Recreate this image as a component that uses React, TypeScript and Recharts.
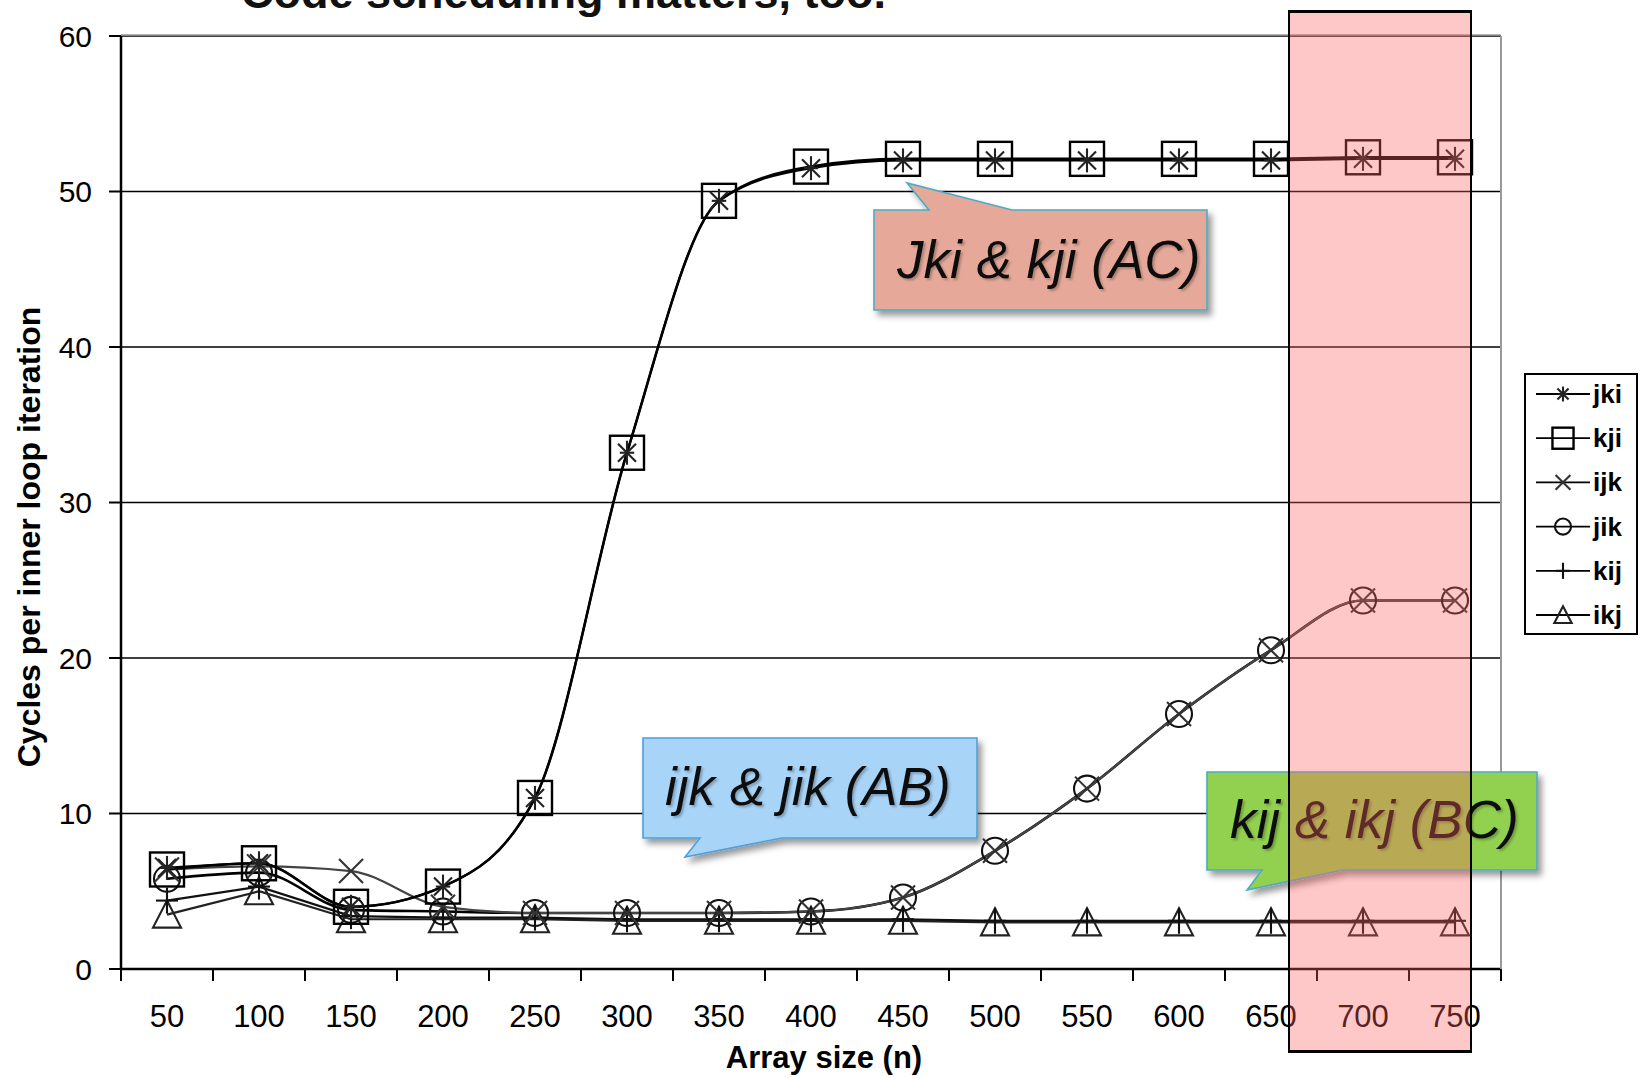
import React from "react";
import { ComposedChart, Line, XAxis, YAxis, CartesianGrid } from "recharts";

// array sizes (n)
const sizes = ["50", "100", "150", "200", "250", "300", "350", "400", "450", "500", "550", "600", "650", "700", "750"];

// cycles per inner loop iteration
const jki = [6.5, 6.8, 4.0, 5.3, 11.0, 33.2, 49.4, 51.5, 52.0, 52.0, 52.0, 52.0, 52.0, 52.1, 52.1];
const kji = [6.4, 6.8, 4.0, 5.3, 11.0, 33.2, 49.4, 51.6, 52.1, 52.1, 52.1, 52.1, 52.1, 52.2, 52.2];
const ijk = [6.4, 6.6, 6.3, 4.0, 3.6, 3.6, 3.6, 3.7, 4.6, 7.6, 11.6, 16.4, 20.5, 23.7, 23.7];
const jik = [5.8, 6.2, 3.8, 3.7, 3.6, 3.6, 3.6, 3.7, 4.6, 7.6, 11.6, 16.4, 20.5, 23.7, 23.7];
const kij = [4.4, 5.3, 3.4, 3.3, 3.3, 3.2, 3.2, 3.2, 3.2, 3.1, 3.1, 3.1, 3.1, 3.1, 3.1];
const ikj = [3.5, 5.0, 3.2, 3.2, 3.2, 3.1, 3.1, 3.1, 3.1, 3.0, 3.0, 3.0, 3.0, 3.0, 3.0];

const yTicks = [0, 10, 20, 30, 40, 50, 60];
const seriesNames = ["jki", "kji", "ijk", "jik", "kij", "ikj"];

const data = sizes.map((n, i) => ({
  n,
  jki: jki[i],
  kji: kji[i],
  ijk: ijk[i],
  jik: jik[i],
  kij: kij[i],
  ikj: ikj[i],
}));

const W = 1646;
const H = 1078;
const Y_AXIS_W = 121;
const X_AXIS_H = 60;
const margin = { top: 36, right: 145, bottom: 49, left: 0 };
const PLOT_LEFT = margin.left + Y_AXIS_W;
const PLOT_RIGHT = W - margin.right;
const PLOT_BOTTOM = H - margin.bottom - X_AXIS_H;
const BAND = (PLOT_RIGHT - PLOT_LEFT) / sizes.length;
const FONT = "'Liberation Sans', Arial, Helvetica, sans-serif";

// marker shapes, scale s = 1 in the plot, smaller in the legend
function Marker({ kind, cx, cy, s = 1 }: { kind: string; cx: number; cy: number; s?: number }) {
  const sw = 2.1;
  if (kind === "jki") {
    const a = 9 * s, v = 12 * s;
    return (
      <g stroke="#222" strokeWidth={sw}>
        <line x1={cx - a} y1={cy - a} x2={cx + a} y2={cy + a} />
        <line x1={cx - a} y1={cy + a} x2={cx + a} y2={cy - a} />
        <line x1={cx} y1={cy - v} x2={cx} y2={cy + v} />
        <line x1={cx - v * 0.6} y1={cy} x2={cx + v * 0.6} y2={cy} />
      </g>
    );
  }
  if (kind === "kji") {
    const h = 17 * s;
    return <rect x={cx - h} y={cy - h} width={h * 2} height={h * 2} fill="none" stroke="#000" strokeWidth={2.4} />;
  }
  if (kind === "ijk") {
    const a = 12 * s;
    return (
      <g stroke="#333" strokeWidth={sw}>
        <line x1={cx - a} y1={cy - a} x2={cx + a} y2={cy + a} />
        <line x1={cx - a} y1={cy + a} x2={cx + a} y2={cy - a} />
      </g>
    );
  }
  if (kind === "jik") {
    return <circle cx={cx} cy={cy} r={13 * s} fill="none" stroke="#111" strokeWidth={sw} />;
  }
  if (kind === "kij") {
    const v = 13 * s, hz = 11 * s;
    return (
      <g stroke="#111" strokeWidth={sw}>
        <line x1={cx} y1={cy - v} x2={cx} y2={cy + v} />
        <line x1={cx - hz} y1={cy} x2={cx + hz} y2={cy} />
      </g>
    );
  }
  const t = 14 * s;
  return (
    <path
      d={`M${cx},${cy - t} L${cx + t},${cy + t * 0.93} L${cx - t},${cy + t * 0.93} Z`}
      fill="none"
      stroke="#222"
      strokeWidth={sw}
    />
  );
}

const makeDot = (kind: string) => (p: any) => (
  <g key={`${kind}-${p.index}`}>
    {p.cx != null && p.cy != null ? <Marker kind={kind} cx={p.cx} cy={p.cy} /> : null}
  </g>
);

// labels sit in the middle of each category, tick marks on the category boundaries
const XTick = (props: any) => {
  const { x, payload, index } = props;
  const left = x - BAND / 2;
  return (
    <g>
      <line x1={left} y1={PLOT_BOTTOM} x2={left} y2={PLOT_BOTTOM + 12} stroke="#000" strokeWidth={2} />
      {index === sizes.length - 1 ? (
        <line x1={x + BAND / 2} y1={PLOT_BOTTOM} x2={x + BAND / 2} y2={PLOT_BOTTOM + 12} stroke="#000" strokeWidth={2} />
      ) : null}
      <text x={x} y={PLOT_BOTTOM + 58} textAnchor="middle" fontSize={31} fill="#000" fontFamily={FONT}>
        {payload.value}
      </text>
    </g>
  );
};

function Callout({ box, ptr, fill, stroke, text, tx, ty }: any) {
  const [x1, y1, x2, y2] = box;
  const [a, tip, b] = ptr;
  const top = a[1] === y1;
  const d = top
    ? `M${x1},${y1} L${a[0]},${y1} L${tip[0]},${tip[1]} L${b[0]},${y1} L${x2},${y1} L${x2},${y2} L${x1},${y2} Z`
    : `M${x1},${y1} L${x2},${y1} L${x2},${y2} L${b[0]},${y2} L${tip[0]},${tip[1]} L${a[0]},${y2} L${x1},${y2} Z`;
  return (
    <g>
      <path d={d} fill={fill} stroke={stroke} strokeWidth={1.6} filter="url(#shadow)" />
      <text x={tx} y={ty} fontSize={53} fontStyle="italic" fill="#111" fontFamily={FONT} filter="url(#tshadow)">
        {text}
      </text>
    </g>
  );
}

export default function App() {
  return (
    <div style={{ position: "absolute", left: 0, top: 0, width: W, height: H, background: "#fff", overflow: "hidden" }}>
      <ComposedChart width={W} height={H} data={data} margin={margin}>
        <CartesianGrid vertical={false} stroke="#000" strokeWidth={1.5} />
        <XAxis
          dataKey="n"
          type="category"
          scale="point"
          padding={{ left: BAND / 2, right: BAND / 2 }}
          interval={0}
          height={X_AXIS_H}
          axisLine={{ stroke: "#000", strokeWidth: 2.5 }}
          tickLine={false}
          tick={<XTick />}
        />
        <YAxis
          width={Y_AXIS_W}
          domain={[0, 60]}
          ticks={yTicks}
          interval={0}
          axisLine={{ stroke: "#000", strokeWidth: 2.5 }}
          tickLine={{ stroke: "#000", strokeWidth: 2 }}
          tickSize={12}
          tickMargin={17}
          tick={{ fontSize: 30, fill: "#000", fontFamily: FONT }}
        />
        <Line dataKey="ikj" type="linear" stroke="#222" strokeWidth={2.2} dot={makeDot("ikj")} isAnimationActive={false} />
        <Line dataKey="kij" type="linear" stroke="#111" strokeWidth={2.2} dot={makeDot("kij")} isAnimationActive={false} />
        <Line dataKey="jik" type="monotone" stroke="#000" strokeWidth={2.6} dot={makeDot("jik")} isAnimationActive={false} />
        <Line dataKey="ijk" type="monotone" stroke="#444" strokeWidth={2.2} dot={makeDot("ijk")} isAnimationActive={false} />
        <Line dataKey="kji" type="monotone" stroke="#000" strokeWidth={2.6} dot={makeDot("kji")} isAnimationActive={false} />
        <Line dataKey="jki" type="monotone" stroke="#000" strokeWidth={2.2} dot={makeDot("jki")} isAnimationActive={false} />
      </ComposedChart>

      <svg width={W} height={H} style={{ position: "absolute", left: 0, top: 0, pointerEvents: "none" }}>
        <defs>
          <filter id="shadow" x="-10%" y="-10%" width="130%" height="140%">
            <feDropShadow dx="4" dy="5" stdDeviation="3" floodColor="#000" floodOpacity="0.4" />
          </filter>
          <filter id="tshadow" x="-5%" y="-10%" width="115%" height="130%">
            <feDropShadow dx="2" dy="2" stdDeviation="1.2" floodColor="#000" floodOpacity="0.25" />
          </filter>
        </defs>
        {/* title, mostly cut off at the top as in the source slide */}
        <text x={241} y={8} fontSize={45} fontWeight="bold" fill="#111" fontFamily={FONT}>
          Code scheduling matters, too.
        </text>
        {/* light right border of plot */}
        <line x1={PLOT_RIGHT} y1={margin.top} x2={PLOT_RIGHT} y2={PLOT_BOTTOM} stroke="#999" strokeWidth={2} />
        <line x1={PLOT_LEFT} y1={margin.top - 1} x2={PLOT_RIGHT} y2={margin.top - 1} stroke="#999" strokeWidth={1.5} />
        <text
          transform={`translate(40, 537) rotate(-90)`}
          textAnchor="middle"
          fontSize={32}
          fontWeight="bold"
          fill="#000"
          fontFamily={FONT}
        >
          Cycles per inner loop iteration
        </text>
        <text x={824} y={1068} textAnchor="middle" fontSize={31} fontWeight="bold" fill="#000" fontFamily={FONT}>
          Array size (n)
        </text>

        <Callout
          box={[874, 210, 1207, 310]}
          ptr={[[929, 210], [907, 183], [1012, 210]]}
          fill="#E6A999"
          stroke="#4BACC6"
          text="Jki & kji (AC)"
          tx={897}
          ty={278}
        />
        <Callout
          box={[643, 738, 977, 838]}
          ptr={[[700, 838], [685, 857], [782, 838]]}
          fill="#A8D4F8"
          stroke="#4F9FDB"
          text="ijk & jik (AB)"
          tx={665}
          ty={805}
        />
        <Callout
          box={[1207, 772, 1537, 870]}
          ptr={[[1262, 870], [1247, 890], [1343, 870]]}
          fill="#92D050"
          stroke="#4BACC6"
          text="kij & ikj (BC)"
          tx={1230}
          ty={838}
        />
      </svg>

      {/* highlighted region over 650..750 */}
      <div
        style={{
          position: "absolute",
          left: 1288,
          top: 10,
          width: 184,
          height: 1043,
          background: "rgba(255,98,98,0.35)",
          borderLeft: "2px solid #000",
          borderRight: "2px solid #000",
          borderTop: "3px solid #000",
          borderBottom: "3px solid #000",
          boxSizing: "border-box",
        }}
      />

      {/* legend */}
      <div
        style={{
          position: "absolute",
          left: 1524,
          top: 373,
          width: 114,
          height: 262,
          border: "2px solid #000",
          boxSizing: "border-box",
          background: "#fff",
        }}
      >
        <svg width={110} height={258} style={{ overflow: "visible" }}>
          {seriesNames.map((name, i) => {
            const y = 19 + i * 44.2;
            return (
              <g key={name}>
                <line x1={10} y1={y} x2={64} y2={y} stroke="#000" strokeWidth={1.8} />
                <Marker kind={name} cx={37} cy={y} s={0.62} />
                <text x={67} y={y + 9} fontSize={26} fontWeight="bold" fill="#000" fontFamily={FONT}>
                  {name}
                </text>
              </g>
            );
          })}
        </svg>
      </div>
    </div>
  );
}
